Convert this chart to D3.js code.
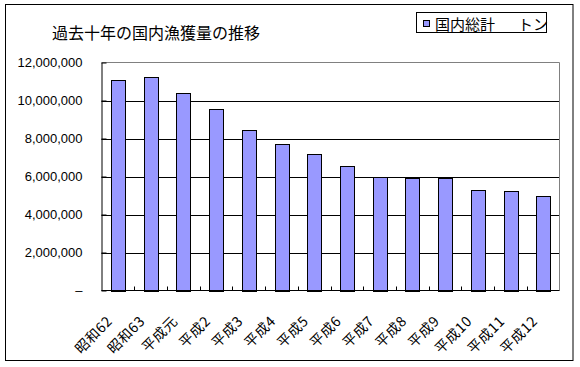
<!DOCTYPE html>
<html><head><meta charset="utf-8">
<script src="https://cdn.jsdelivr.net/npm/d3@7"></script>
<style>body{margin:0;background:#fff}svg{display:block}</style>
</head><body>
<script>
const categories = ["昭和62","昭和63","平成元","平成2","平成3","平成4","平成5","平成6","平成7","平成8","平成9","平成10","平成11","平成12"];
const values = [11090000,11260000,10400000,9560000,8460000,7720000,7190000,6560000,5980000,5930000,5930000,5300000,5250000,4980000];
const yTicks = [0,2000000,4000000,6000000,8000000,10000000,12000000];
const title = "過去十年の国内漁獲量の推移";
const legendName = "国内総計";
const legendUnit = "トン";

const W = 580, H = 367;
const jp = "'Noto Sans CJK JP', sans-serif";
const svg = d3.select("body").append("svg").attr("width", W).attr("height", H);

svg.append("rect").attr("x",5.5).attr("y",4.5).attr("width",567.5).attr("height",356)
  .attr("fill","#fff").attr("stroke","#000");

const L = 101.5, R = 559.5, T = 62.5, B = 290.5;
const x = d3.scaleBand().domain(categories).range([L, R]).paddingInner(0.58).paddingOuter(0.29);
const xb = d3.scaleBand().domain(categories).range([L, R]);
const y = d3.scaleLinear().domain([0, 12000000]).range([B, T]);

// gridlines
svg.append("g").selectAll("line").data(yTicks.filter(d => d > 0 && d < 12000000)).join("line")
  .attr("x1", L).attr("x2", R).attr("y1", d => Math.round(y(d)) + 0.5).attr("y2", d => Math.round(y(d)) + 0.5)
  .attr("stroke", "#000");

// plot border (grey top/right)
svg.append("path").attr("d", `M${L},${T}H${R}V${B}`).attr("fill","none").attr("stroke","#808080");

// bars
svg.append("g").selectAll("rect").data(values).join("rect")
  .attr("x", (d,i) => Math.round(x(categories[i])) + 0.5)
  .attr("y", d => Math.round(y(d)) + 0.5)
  .attr("width", Math.round(x.bandwidth()))
  .attr("height", d => Math.round(B - y(d)))
  .attr("fill", "#9999ff").attr("stroke", "#000");

// x axis with inner ticks at boundaries
svg.append("line").attr("x1", L).attr("x2", R).attr("y1", B).attr("y2", B).attr("stroke","#000");
svg.append("g").selectAll("line").data(categories.slice(1)).join("line")
  .attr("x1", d => Math.round(xb(d)) + 0.5).attr("x2", d => Math.round(xb(d)) + 0.5)
  .attr("y1", B).attr("y2", B - 4).attr("stroke","#000");

// y axis
const yAxis = d3.axisLeft(y).tickValues(yTicks).tickSizeInner(-5).tickSizeOuter(0).tickPadding(19)
  .tickFormat(d => d === 0 ? "–" : d3.format(",")(d));
const ya = svg.append("g").attr("transform", `translate(${L},0)`).call(yAxis);
ya.select(".domain").attr("stroke","#000");
ya.selectAll(".tick line").attr("stroke","#000");
ya.selectAll("text").attr("font-family", "'Liberation Sans', Arial, sans-serif").attr("font-size", 13).attr("fill","#000");

// x labels
svg.append("g").selectAll("text").data(categories).join("text")
  .attr("transform", d => `translate(${xb(d) + xb.bandwidth()/2 - 9},318) rotate(-45)`)
  .attr("text-anchor", "end").attr("dominant-baseline", "central")
  .attr("font-family", jp).attr("font-size", 14).attr("letter-spacing", 0.5).text(d => d);

// title
svg.append("text").attr("x", 52).attr("y", 31.5).attr("dominant-baseline","central")
  .attr("font-family", jp).attr("font-size", 16).text(title);

// legend
svg.append("rect").attr("x",416.5).attr("y",12.5).attr("width",130).attr("height",20).attr("fill","#fff").attr("stroke","#000");
svg.append("rect").attr("x",423.5).attr("y",20.5).attr("width",6).attr("height",6).attr("fill","#9999ff").attr("stroke","#000");
svg.append("text").attr("x",435).attr("y",23).attr("dominant-baseline","central")
  .attr("font-family", jp).attr("font-size", 15).text(legendName);
svg.append("text").attr("x",518).attr("y",23).attr("dominant-baseline","central")
  .attr("font-family", jp).attr("font-size", 15).text(legendUnit);
</script>
</body></html>
